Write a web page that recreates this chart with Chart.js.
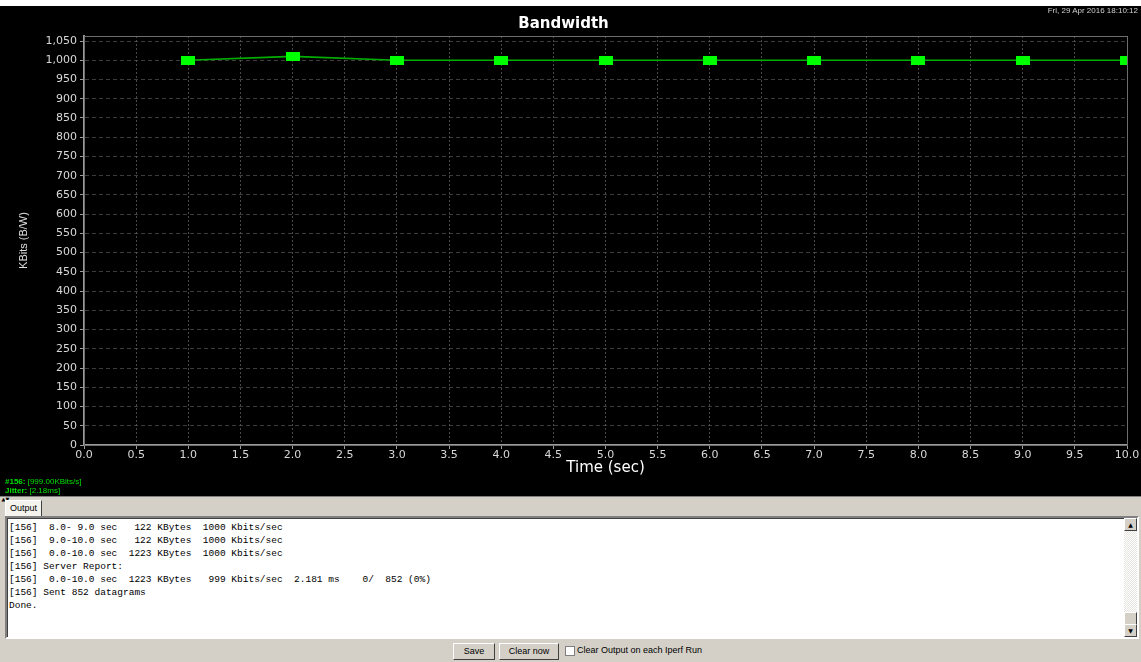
<!DOCTYPE html>
<html lang="en">
<head>
    <meta charset="UTF-8">
    <title>Bandwidth</title>
    <script src="https://cdn.jsdelivr.net/npm/chart.js"></script>
    <style>
        body {
            margin: 0;
            width: 1141px;
            height: 662px;
            overflow: hidden;
            position: relative;
            background: #d4d0c8;
            font-family: 'DejaVu Sans', sans-serif;
        }

        .topstrip {
            position: absolute;
            left: 0; top: 0;
            width: 1141px; height: 6px;
            background: #fff;
        }

        .plot {
            position: absolute;
            left: 0; top: 6px;
            width: 1141px; height: 490px;
            background: #000;
        }

        .stamp {
            position: absolute;
            right: 3px; top: 6px;
            font-family: 'Liberation Sans', sans-serif;
            font-size: 8px;
            color: #cfcfcf;
        }

        .stats {
            position: absolute;
            left: 5px; top: 477px;
            font-family: 'Liberation Sans', sans-serif;
            font-size: 8px;
            line-height: 9px;
            color: #00e000;
        }
        .stats b { font-weight: bold; }

        .splitter {
            position: absolute;
            left: 0; top: 496px;
            width: 1141px; height: 3px;
            border-top: 1px solid #808080;
            background: #d4d0c8;
            font-size: 5px;
            line-height: 4px;
            color: #000;
        }

        .tab {
            position: absolute;
            left: 5px; top: 500px;
            height: 15px;
            padding: 0 4px;
            background: #f4f3ee;
            border: 1px solid #fff;
            border-right-color: #404040;
            border-bottom: none;
            font-family: 'Liberation Sans', sans-serif;
            font-size: 9px;
            line-height: 15px;
        }

        .output {
            position: absolute;
            left: 5px; top: 516px;
            width: 1130px; height: 119px;
            background: #fff;
            border: 2px solid;
            border-color: #808080 #fff #fff #808080;
            box-shadow: inset 1px 1px 0 #404040;
        }

        .output pre {
            margin: 0;
            padding: 3px 0 0 2px;
            font-family: 'Liberation Mono', monospace;
            font-size: 9.5px;
            line-height: 13px;
            color: #000;
        }

        .scroll {
            position: absolute;
            right: 0; top: 0;
            width: 13px; height: 119px;
            background: repeating-conic-gradient(#e6e4de 0 25%, #fff 0 50%) 0 0 / 2px 2px;
        }
        .sbtn {
            position: absolute;
            left: 0;
            width: 11px; height: 11px;
            background: #d4d0c8;
            border: 1px solid;
            border-color: #fff #404040 #404040 #fff;
            font-size: 6px;
            line-height: 11px;
            text-align: center;
        }

        .btn {
            position: absolute;
            top: 643px;
            height: 15px;
            background: #d4d0c8;
            border: 1px solid;
            border-color: #fff #404040 #404040 #fff;
            font-family: 'Liberation Sans', sans-serif;
            font-size: 9px;
            line-height: 15px;
            text-align: center;
        }

        .check {
            position: absolute;
            left: 565px; top: 646px;
            width: 8px; height: 8px;
            background: #fff;
            border: 1px solid #808080;
        }
        .checklabel {
            position: absolute;
            left: 577px; top: 645px;
            font-family: 'Liberation Sans', sans-serif;
            font-size: 9px;
        }
    </style>
</head>
<body>
    <div class="topstrip"></div>
    <div class="plot">
        <canvas id="bwChart"></canvas>
    </div>
    <div class="stamp">Fri, 29 Apr 2016 18:10:12</div>
    <div class="stats">
        <div><b>#156:</b> [999.00KBits/s]</div>
        <div><b>Jitter:</b> [2.18ms]</div>
    </div>
    <div class="splitter">&nbsp;▲▼</div>
    <div class="tab">Output</div>
    <div class="output">
<pre>[156]  8.0- 9.0 sec   122 KBytes  1000 Kbits/sec
[156]  9.0-10.0 sec   122 KBytes  1000 Kbits/sec
[156]  0.0-10.0 sec  1223 KBytes  1000 Kbits/sec
[156] Server Report:
[156]  0.0-10.0 sec  1223 KBytes   999 Kbits/sec  2.181 ms    0/  852 (0%)
[156] Sent 852 datagrams
Done.</pre>
        <div class="scroll">
            <div class="sbtn" style="top:0">▲</div>
            <div class="sbtn" style="top:94px"></div>
            <div class="sbtn" style="top:106px">▼</div>
        </div>
    </div>
    <div class="btn" style="left:453px; width:40px;">Save</div>
    <div class="btn" style="left:499px; width:58px;">Clear now</div>
    <div class="check"></div>
    <div class="checklabel">Clear Output on each Iperf Run</div>

    <script>
        // interval end times (sec) and measured bandwidth (KBits/s)
        const times = [1, 2, 3, 4, 5, 6, 7, 8, 9, 10];
        const kbits = [1000, 1010, 1000, 1000, 1000, 1000, 1000, 1000, 1000, 1000];

        // axis ranges and tick spacing
        const xMin = 0, xMax = 10, xStep = 0.5;
        const yMin = 0, yMax = 1063, yStep = 50, yTopTick = 1050;

        // green rectangle marker
        const marker = document.createElement('canvas');
        marker.width = 14;
        marker.height = 9;
        const mctx = marker.getContext('2d');
        mctx.fillStyle = '#00ff00';
        mctx.fillRect(0, 0, 14, 9);

        // gray frame around the plot area
        const frame = {
            id: 'frame',
            beforeDatasetsDraw(chart) {
                const { ctx, chartArea: a } = chart;
                ctx.save();
                ctx.strokeStyle = '#6e6e6e';
                ctx.lineWidth = 1;
                ctx.strokeRect(a.left + 0.5, a.top + 0.5, a.right - a.left, a.bottom - a.top);
                ctx.restore();
            }
        };

        const tickFont = { family: 'DejaVu Sans', size: 11 };

        new Chart(document.getElementById('bwChart'), {
            type: 'line',
            data: {
                datasets: [{
                    label: 'Bandwidth',
                    data: times.map((t, i) => ({ x: t, y: kbits[i] })),
                    borderColor: '#00b000',
                    borderWidth: 1.6,
                    pointStyle: marker,
                    pointRadius: 7,
                    tension: 0,
                    clip: 0
                }]
            },
            options: {
                responsive: true,
                maintainAspectRatio: false,
                animation: false,
                events: [],
                layout: { padding: { left: 0, right: 14, top: 0, bottom: 19 } },
                plugins: {
                    legend: { display: false },
                    tooltip: { enabled: false },
                    title: {
                        display: true,
                        text: 'Bandwidth',
                        color: '#ffffff',
                        font: { family: 'DejaVu Sans', size: 15, weight: 'bold', lineHeight: 1.2 },
                        padding: { top: 9, bottom: 3 }
                    }
                },
                scales: {
                    x: {
                        type: 'linear',
                        min: xMin,
                        max: xMax,
                        afterFit: s => { s.height = 32; },
                        ticks: {
                            stepSize: xStep,
                            color: '#d8d8d8',
                            font: tickFont,
                            padding: 0,
                            maxRotation: 0,
                            autoSkip: false,
                            callback: v => v.toFixed(1)
                        },
                        grid: {
                            color: 'rgba(120,120,120,0.6)',
                            tickBorderDash: [],
                            tickColor: '#9a9a9a',
                            tickLength: 4
                        },
                        border: { color: '#9a9a9a', width: 2, dash: [2, 2] },
                        title: {
                            display: true,
                            text: 'Time (sec)',
                            color: '#ffffff',
                            font: { family: 'DejaVu Sans', size: 15 },
                            padding: 0
                        }
                    },
                    y: {
                        min: yMin,
                        max: yMax,
                        afterFit: s => { s.width = 84; },
                        afterBuildTicks: s => {
                            const list = [];
                            for (let v = yMin; v <= yTopTick; v += yStep) list.push({ value: v });
                            s.ticks = list;
                        },
                        ticks: {
                            color: '#d8d8d8',
                            font: tickFont,
                            padding: 3
                        },
                        grid: {
                            color: 'rgba(100,100,100,0.6)',
                            tickBorderDash: [],
                            tickColor: '#9a9a9a',
                            tickLength: 4
                        },
                        border: { color: '#9a9a9a', width: 2, dash: [4, 3] },
                        title: {
                            display: true,
                            text: 'KBits (B/W)',
                            color: '#e0e0e0',
                            font: { family: "'Liberation Sans Narrow', 'Liberation Sans'", size: 11 },
                            padding: { top: 17, bottom: 0 }
                        }
                    }
                }
            },
            plugins: [frame]
        });
    </script>
</body>
</html>
